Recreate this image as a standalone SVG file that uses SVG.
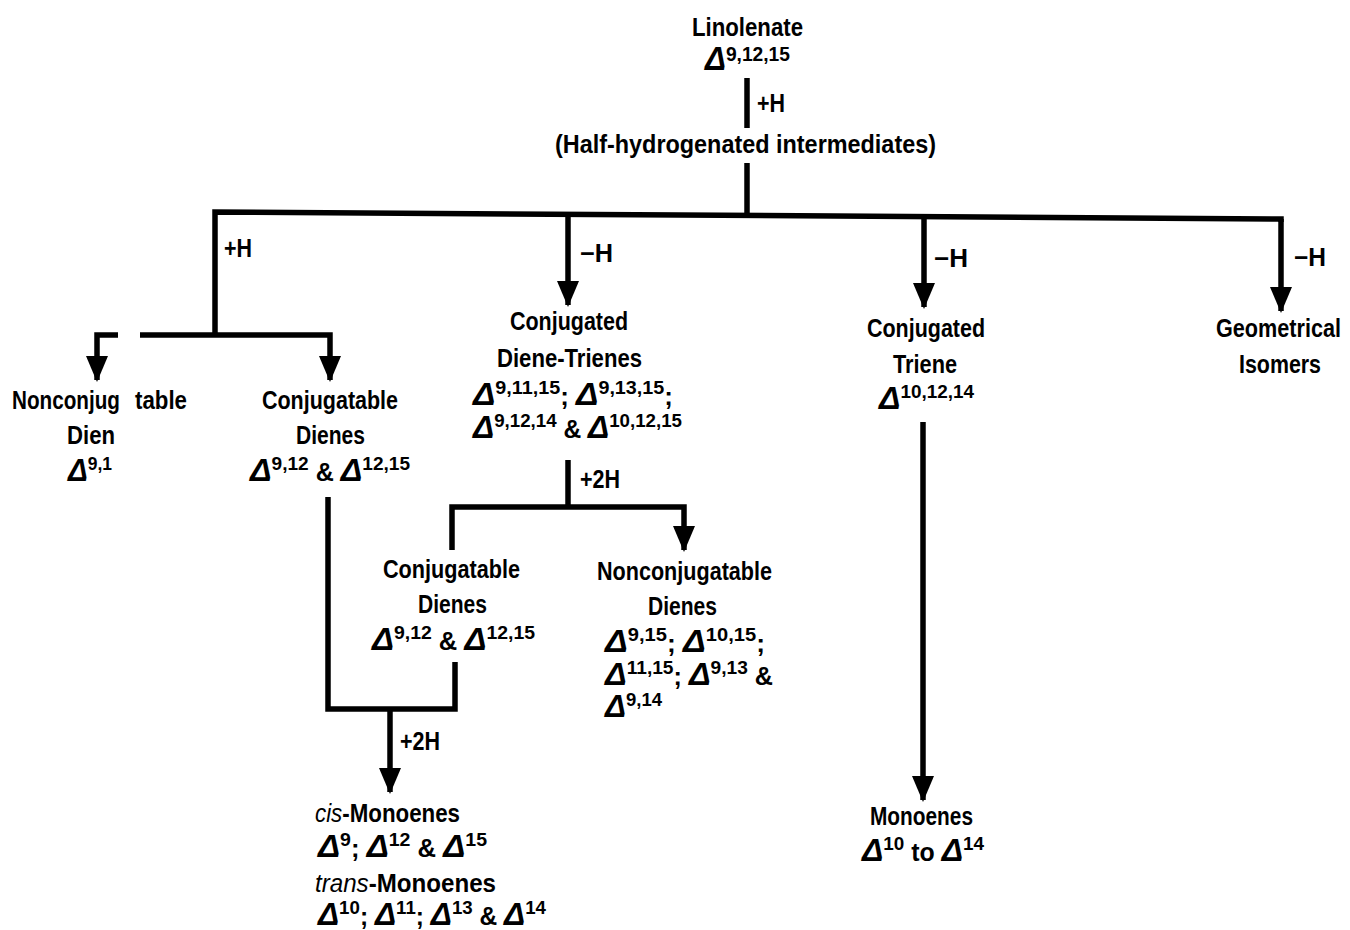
<svg xmlns="http://www.w3.org/2000/svg" width="1350" height="930" viewBox="0 0 1350 930">
<style>
text{font-family:"Liberation Sans",Arial,sans-serif;font-weight:bold;font-size:25px;fill:#000}
.d{font-style:italic;font-size:32px}
.s{font-size:19px}
.i{font-style:italic;font-weight:normal}
.c{fill:none;stroke:#000;stroke-width:5.5}
.a{fill:none;stroke:#000;stroke-width:5.5;marker-end:url(#ah)}
</style>
<defs>
<marker id="ah" viewBox="0 0 26 22" markerWidth="26" markerHeight="22" refX="24" refY="11" orient="auto" markerUnits="userSpaceOnUse"><path d="M0,0 L26,11 L0,22 Z" fill="#000"/></marker>
</defs>
<rect width="1350" height="930" fill="#fff"/>
<g id="connectors">
<line class="c" x1="747" y1="78" x2="747" y2="128"/>
<line class="c" x1="747" y1="163" x2="747" y2="215"/>
<polyline class="c" points="215,335 215,212 1281,219 1281,222"/>
<line class="a" x1="1281" y1="219" x2="1281" y2="311"/>
<line class="a" x1="568" y1="214" x2="568" y2="305"/>
<line class="a" x1="924" y1="217" x2="924" y2="307"/>
<polyline class="a" points="140,335 330,335 330,380"/>
<polyline class="a" points="118,335 97,335 97,380"/>
<line class="c" x1="568" y1="460" x2="568" y2="507"/>
<polyline class="a" points="452,550 452,507 684,507 684,550"/>
<polyline class="c" points="328,497 328,709 455,709 455,662"/>
<line class="a" x1="390" y1="709" x2="390" y2="792"/>
<line class="a" x1="923" y1="422" x2="923" y2="800"/>
<text x="757" y="112" textLength="28" lengthAdjust="spacingAndGlyphs">+H</text>
<text x="224" y="257" textLength="28" lengthAdjust="spacingAndGlyphs">+H</text>
<text x="580" y="262" textLength="33" lengthAdjust="spacingAndGlyphs">−H</text>
<text x="934" y="267" textLength="34" lengthAdjust="spacingAndGlyphs">−H</text>
<text x="1294" y="266" textLength="32" lengthAdjust="spacingAndGlyphs">−H</text>
<text x="580" y="488" textLength="40" lengthAdjust="spacingAndGlyphs">+2H</text>
<text x="400" y="750" textLength="40" lengthAdjust="spacingAndGlyphs">+2H</text>
</g>
<g id="n-linolenate">
<text x="692" y="36" textLength="111" lengthAdjust="spacingAndGlyphs">Linolenate</text>
<text x="705" y="70" textLength="85" lengthAdjust="spacingAndGlyphs"><tspan class="d" style="font-size:34px">Δ</tspan><tspan class="s" style="font-size:21px" y="61">9,12,15</tspan></text>
</g>
<g id="n-half">
<text x="555" y="153" textLength="381" lengthAdjust="spacingAndGlyphs">(Half-hydrogenated  intermediates)</text>
</g>
<g id="n-nonconj1">
<text x="12" y="409" textLength="108" lengthAdjust="spacingAndGlyphs">Nonconjug</text>
<text x="135" y="409" textLength="52" lengthAdjust="spacingAndGlyphs">table</text>
<text x="67" y="444" textLength="48" lengthAdjust="spacingAndGlyphs">Dien</text>
<text x="68" y="481" textLength="44" lengthAdjust="spacingAndGlyphs"><tspan class="d">Δ</tspan><tspan class="s" y="470">9,1</tspan></text>
</g>
<g id="n-conj1">
<text x="262" y="409" textLength="136" lengthAdjust="spacingAndGlyphs">Conjugatable</text>
<text x="296" y="444" textLength="69" lengthAdjust="spacingAndGlyphs">Dienes</text>
<text x="250" y="481" textLength="160" lengthAdjust="spacingAndGlyphs"><tspan class="d">Δ</tspan><tspan class="s" y="470">9,12</tspan><tspan y="481"> &amp; </tspan><tspan class="d" y="481">Δ</tspan><tspan class="s" y="470">12,15</tspan></text>
</g>
<g id="n-dienetrienes">
<text x="510" y="330" textLength="118" lengthAdjust="spacingAndGlyphs">Conjugated</text>
<text x="497" y="367" textLength="145" lengthAdjust="spacingAndGlyphs">Diene-Trienes</text>
<text x="473" y="405" textLength="200" lengthAdjust="spacingAndGlyphs"><tspan class="d">Δ</tspan><tspan class="s" y="394">9,11,15</tspan><tspan y="405">; </tspan><tspan class="d" y="405">Δ</tspan><tspan class="s" y="394">9,13,15</tspan><tspan y="405">;</tspan></text>
<text x="473" y="438" textLength="209" lengthAdjust="spacingAndGlyphs"><tspan class="d">Δ</tspan><tspan class="s" y="427">9,12,14</tspan><tspan y="438"> &amp; </tspan><tspan class="d" y="438">Δ</tspan><tspan class="s" y="427">10,12,15</tspan></text>
</g>
<g id="n-triene">
<text x="867" y="337" textLength="118" lengthAdjust="spacingAndGlyphs">Conjugated</text>
<text x="893" y="373" textLength="64" lengthAdjust="spacingAndGlyphs">Triene</text>
<text x="879" y="409" textLength="95" lengthAdjust="spacingAndGlyphs"><tspan class="d">Δ</tspan><tspan class="s" y="398">10,12,14</tspan></text>
</g>
<g id="n-geom">
<text x="1216" y="337" textLength="125" lengthAdjust="spacingAndGlyphs">Geometrical</text>
<text x="1239" y="373" textLength="82" lengthAdjust="spacingAndGlyphs">Isomers</text>
</g>
<g id="n-conj2">
<text x="383" y="578" textLength="137" lengthAdjust="spacingAndGlyphs">Conjugatable</text>
<text x="418" y="613" textLength="69" lengthAdjust="spacingAndGlyphs">Dienes</text>
<text x="372" y="650" textLength="163" lengthAdjust="spacingAndGlyphs"><tspan class="d">Δ</tspan><tspan class="s" y="639">9,12</tspan><tspan y="650"> &amp; </tspan><tspan class="d" y="650">Δ</tspan><tspan class="s" y="639">12,15</tspan></text>
</g>
<g id="n-nonconj2">
<text x="597" y="580" textLength="175" lengthAdjust="spacingAndGlyphs">Nonconjugatable</text>
<text x="648" y="615" textLength="69" lengthAdjust="spacingAndGlyphs">Dienes</text>
<text x="605" y="652" textLength="160" lengthAdjust="spacingAndGlyphs"><tspan class="d">Δ</tspan><tspan class="s" y="641">9,15</tspan><tspan y="652">; </tspan><tspan class="d" y="652">Δ</tspan><tspan class="s" y="641">10,15</tspan><tspan y="652">;</tspan></text>
<text x="605" y="685" textLength="168" lengthAdjust="spacingAndGlyphs"><tspan class="d">Δ</tspan><tspan class="s" y="674">11,15</tspan><tspan y="685">; </tspan><tspan class="d" y="685">Δ</tspan><tspan class="s" y="674">9,13</tspan><tspan y="685"> &amp;</tspan></text>
<text x="605" y="717" textLength="57" lengthAdjust="spacingAndGlyphs"><tspan class="d">Δ</tspan><tspan class="s" y="706">9,14</tspan></text>
</g>
<g id="n-monoenes-ct">
<text x="315" y="822" textLength="145" lengthAdjust="spacingAndGlyphs"><tspan class="i">cis</tspan>-Monoenes</text>
<text x="318" y="857" textLength="169" lengthAdjust="spacingAndGlyphs"><tspan class="d">Δ</tspan><tspan class="s" y="846">9</tspan><tspan y="857">; </tspan><tspan class="d" y="857">Δ</tspan><tspan class="s" y="846">12</tspan><tspan y="857"> &amp; </tspan><tspan class="d" y="857">Δ</tspan><tspan class="s" y="846">15</tspan></text>
<text x="315" y="892" textLength="181" lengthAdjust="spacingAndGlyphs"><tspan class="i">trans</tspan>-Monoenes</text>
<text x="318" y="925" textLength="228" lengthAdjust="spacingAndGlyphs"><tspan class="d">Δ</tspan><tspan class="s" y="914">10</tspan><tspan y="925">; </tspan><tspan class="d" y="925">Δ</tspan><tspan class="s" y="914">11</tspan><tspan y="925">; </tspan><tspan class="d" y="925">Δ</tspan><tspan class="s" y="914">13</tspan><tspan y="925"> &amp; </tspan><tspan class="d" y="925">Δ</tspan><tspan class="s" y="914">14</tspan></text>
</g>
<g id="n-monoenes">
<text x="870" y="825" textLength="103" lengthAdjust="spacingAndGlyphs">Monoenes</text>
<text x="862" y="861" textLength="122" lengthAdjust="spacingAndGlyphs"><tspan class="d">Δ</tspan><tspan class="s" y="850">10</tspan><tspan y="861"> to </tspan><tspan class="d" y="861">Δ</tspan><tspan class="s" y="850">14</tspan></text>
</g>
</svg>
